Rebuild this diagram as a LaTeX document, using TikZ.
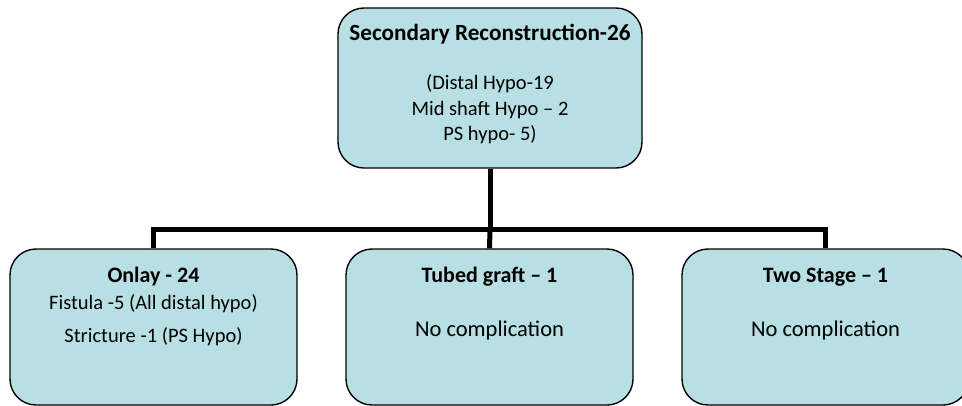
\documentclass[tikz,border=0pt]{standalone}
\usepackage{fontspec}
\setmainfont{Carlito}
\usetikzlibrary{backgrounds}
\definecolor{boxfill}{RGB}{184,223,228}
\tikzset{
  box/.style={draw=black, line width=1.4pt, fill=boxfill, rounded corners=26pt,
    inner sep=0pt, minimum width=#1},
  box/.default=287pt,
  conn/.style={line width=5pt, line join=miter},
  head/.style={font=\fontsize{22}{26}\selectfont\bfseries, inner sep=0pt},
  body/.style={font=\fontsize{20.5}{25.5}\selectfont, inner sep=0pt, align=center},
}
\begin{document}
\begin{tikzpicture}[x=1pt,y=-1pt]
\useasboundingbox (0,0) rectangle (962,405);
\clip (0,0) rectangle (962,405);

% boxes
\node[box=304pt, minimum height=160pt] (top) at (490,88) {};
\node[box, minimum height=156pt] (b1) at (153.5,327) {};
\node[box, minimum height=156pt] (b2) at (489.5,327) {};
\node[box, minimum height=156pt] (b3) at (825.5,327) {};

% texts
\node[head, font=\fontsize{23.2}{26}\selectfont\bfseries] (tt) at (490,34) {Secondary Reconstruction-26};
\node[body] (tb) at (490,109.5) {(Distal Hypo-19\\Mid shaft Hypo – 2\\PS hypo- 5)};

\node[head] (h1) at (153.5,277) {Onlay - 24};
\node[body] (s1) at (153.5,303.5) {Fistula -5 (All distal hypo)};
\node[body] (s2) at (153.5,336.5) {Stricture -1 (PS Hypo)};

\node[head] (h2) at (489.5,277) {Tubed graft – 1};
\node[body, font=\fontsize{22.5}{25}\selectfont] (n2) at (489.5,330) {No complication};

\node[head] (h3) at (825.5,277) {Two Stage – 1};
\node[body, font=\fontsize{22.5}{25}\selectfont] (n3) at (825.5,330) {No complication};

% connectors
\coordinate (j) at (490,229.5);
\begin{scope}[on background layer]
  \draw[conn] (top.south) -- (j);
  \draw[conn] (b1.north) |- (j) -| (b3.north);
  \draw[conn] (j) -- (b2.north);
\end{scope}
\end{tikzpicture}
\end{document}
